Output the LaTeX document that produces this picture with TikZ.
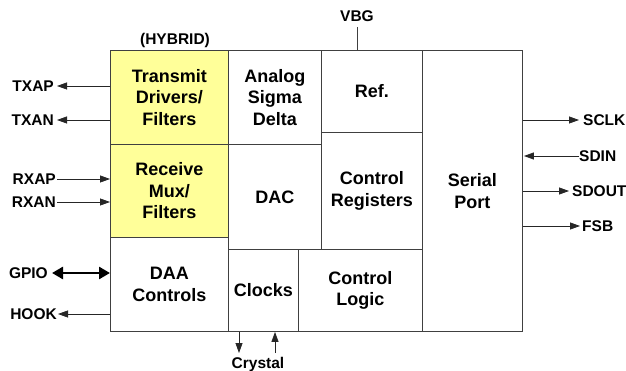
\documentclass[tikz,border=0pt]{standalone}
\usepackage{fontspec}
\setmainfont{Liberation Sans}
\usetikzlibrary{arrows.meta}
\definecolor{hyb}{RGB}{255,255,153}
\begin{document}
\begin{tikzpicture}[x=1pt,y=-1pt,
  blk/.style={draw=black!75, line width=0.9pt, anchor=north west, inner sep=0pt,
    align=center, font=\fontsize{18}{21.5}\selectfont\bfseries},
  yel/.style={fill=hyb},
  pin/.style={inner sep=0pt, font=\fontsize{15.5}{18}\selectfont\bfseries, text height=11pt, text depth=0pt},
  sig/.style={draw=black!85, line width=0.8pt, -{Triangle[length=10pt,width=7pt]}},
  bus/.style={draw=black, line width=2.6pt, {Triangle[length=11pt,width=12pt]}-{Triangle[length=11pt,width=12pt]}}]
\useasboundingbox (0,0) rectangle (626,371);
% blocks
\node[blk,yel,minimum width=118pt,minimum height=94pt] (tx) at (110,50) {Transmit\\Drivers/\\Filters};
\node[blk,yel,minimum width=118pt,minimum height=93pt] (rx) at (110,144) {Receive\\Mux/\\Filters};
\node[blk,minimum width=118pt,minimum height=94pt] (daa) at (110,237) {DAA\\Controls};
\node[blk,minimum width=93pt,minimum height=94pt] (asd) at (228,50) {Analog\\Sigma\\Delta};
\node[blk,minimum width=93pt,minimum height=105pt] (dac) at (228,144) {DAC};
\node[blk,minimum width=101pt,minimum height=82pt] (ref) at (321,50) {Ref.};
\node[blk,minimum width=101pt,minimum height=117pt] (creg) at (321,132) {Control\\Registers};
\node[blk,minimum width=70pt,minimum height=82pt] (clk) at (228,249) {Clocks};
\node[blk,minimum width=124pt,minimum height=82pt] (clog) at (298,249) {Control\\Logic};
\node[blk,minimum width=100pt,minimum height=281pt] (sp) at (422,50) {Serial\\Port};
% top labels
\node[pin] (hyb) at (175,39) {(HYBRID)};
\node[pin] (vbg) at (357,16) {VBG};
\coordinate (vbgend) at (357,50);
\draw[draw=black!75, line width=0.8pt] (vbg.south |- 0,27) -- (vbgend);
% left pins
\node[pin,anchor=east] (txap) at (54,86) {TXAP};
\node[pin,anchor=east] (txan) at (54,120) {TXAN};
\node[pin,anchor=east] (rxap) at (56,179) {RXAP};
\node[pin,anchor=east] (rxan) at (56,202) {RXAN};
\node[pin,anchor=east] (gpio) at (48,273) {GPIO};
\node[pin,anchor=east] (hook) at (57,314) {HOOK};
\draw[sig] (tx.west |- txap) -- ([xshift=3pt]txap.east);
\draw[sig] (tx.west |- txan) -- ([xshift=3pt]txan.east);
\draw[sig] ([xshift=1pt]rxap.east) -- (rx.west |- rxap);
\draw[sig] ([xshift=1pt]rxan.east) -- (rx.west |- rxan);
\draw[bus] ([xshift=4pt]gpio.east) -- (daa.west |- gpio);
\draw[sig] (daa.west |- hook) -- ([xshift=1pt]hook.east);
% right pins
\node[pin,anchor=west] (sclk) at (583,120) {SCLK};
\node[pin,anchor=west] (sdin) at (579,156) {SDIN};
\node[pin,anchor=west] (sdout) at (572,191) {SDOUT};
\node[pin,anchor=west] (fsb) at (582,226) {FSB};
\draw[sig] (sp.east |- sclk) -- ([xshift=-4pt]sclk.west);
\draw[sig] (sdin.west) -- ([xshift=1pt]sp.east |- sdin);
\draw[sig] (sp.east |- sdout) -- ([xshift=-3pt]sdout.west);
\draw[sig] (sp.east |- fsb) -- ([xshift=-2pt]fsb.west);
% crystal
\node[pin] (xtal) at (258,363) {Crystal};
\coordinate (xa) at (239,353);
\coordinate (xb) at (275,353);
\draw[sig] (clk.south -| xa) -- (xa);
\draw[sig] (xb) -- (clk.south -| xb);
\end{tikzpicture}
\end{document}
